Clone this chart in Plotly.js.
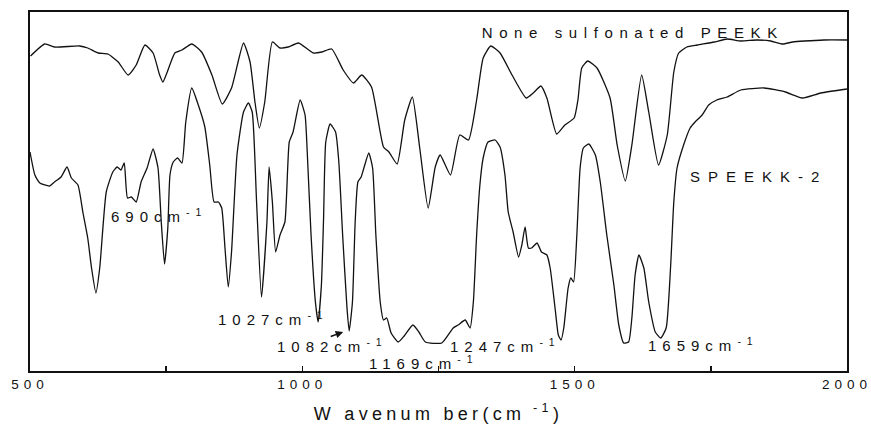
<!DOCTYPE html>
<html>
<head>
<meta charset="utf-8">
<script src="https://cdn.plot.ly/plotly-3.0.1.min.js"></script>
<style>
  html, body { margin: 0; padding: 0; background: #fff; }
  #chart { width: 871px; height: 425px; }
  .annotation-text { letter-spacing: 6px; }
  g.annotation[data-index="0"] .annotation-text { letter-spacing: 6.6px; }
  g.annotation[data-index="1"] .annotation-text { letter-spacing: 8px; }
  .xtick text { letter-spacing: 5px; }
  .g-xtitle text { letter-spacing: 4.3px; }
</style>
</head>
<body>
<div id="chart"></div>
<script>
// Wavenumber (cm-1) and transmittance (arbitrary units)
const pureWavenumber = [501,527,545,591,606,625,643,662,680,695,711,726,738,744,752,766,779,797,815,834,853,870,892,904,913,921,931,945,959,974,993,1020,1036,1054,1075,1094,1109,1127,1149,1159,1174,1188,1202,1216,1231,1244,1253,1272,1289,1305,1320,1332,1346,1363,1385,1411,1424,1438,1449,1467,1482,1499,1506,1513,1524,1541,1565,1578,1593,1605,1623,1636,1654,1670,1682,1691,1706,1725,1756,1780,1805,1835,1860,1882,1900,1922,1958,2000];
const pureT = [315,327,324,325,323,318,317,309,296,306,326,318,296,289,299,318,321,327,319,296,267,283,328,309,269,243,269,329,323,324,328,318,319,322,301,288,296,284,224,219,207,251,274,221,163,204,216,196,236,231,271,313,325,318,296,273,278,285,273,237,246,253,271,303,310,303,273,226,190,226,296,259,206,236,299,318,324,326,329,332,330,331,330,327,329,330,331,331];

const sulfWavenumber = [500,509,518,536,545,557,568,576,588,597,606,613,621,628,640,652,660,667,673,679,686,695,704,715,726,735,741,747,753,757,763,771,779,786,797,809,821,830,838,846,852,858,864,870,880,892,901,908,916,925,935,939,945,951,959,968,976,983,996,1005,1009,1016,1024,1029,1035,1039,1043,1051,1061,1067,1074,1082,1086,1092,1097,1102,1108,1113,1122,1129,1135,1143,1149,1155,1163,1176,1187,1203,1214,1226,1256,1277,1286,1299,1308,1314,1320,1326,1332,1341,1354,1363,1372,1378,1387,1397,1403,1409,1415,1421,1431,1439,1449,1455,1464,1470,1475,1480,1488,1493,1498,1504,1510,1516,1526,1538,1547,1559,1572,1581,1590,1599,1605,1611,1618,1627,1636,1648,1658,1668,1676,1682,1688,1700,1712,1721,1734,1746,1761,1780,1805,1848,1887,1918,1952,2000];
const sulfT = [219,196,188,185,189,194,204,193,186,159,133,103,78,103,179,199,204,201,208,173,174,169,189,203,222,203,149,107,143,196,209,213,208,249,283,266,244,206,169,169,163,123,84,119,216,259,268,259,169,74,149,204,169,119,136,149,229,239,271,256,219,136,69,49,86,153,229,247,239,209,136,63,40,69,149,189,194,203,218,203,136,69,51,53,38,29,35,46,39,29,28,43,46,51,43,69,136,186,213,229,231,224,196,159,139,114,126,144,123,123,128,119,116,103,63,36,31,43,83,93,89,136,203,223,227,216,189,136,86,46,28,29,53,96,116,103,69,39,33,43,103,169,203,226,243,249,256,266,271,274,281,283,279,273,278,282];

const tickValues = [500, 1000, 1500, 2000];
const tickLabels = ['500', '1000', '1500', '2000'];
const minorTickValues = [750, 1250, 1750];

const seriesNames = ['None sulfonated PEEKK', 'SPEEKK-2'];
const peakLabels = ['690cm<sup>-1</sup>', '1027cm<sup>-1</sup>', '1082cm<sup>-1</sup>', '1169cm<sup>-1</sup>', '1247cm<sup>-1</sup>', '1659cm<sup>-1</sup>'];
const peakLabelX = [645, 841, 950, 1119, 1267, 1631];
const peakLabelY = [156, 53, 26, 9, 26, 27];

const FONT = 'Liberation Sans, Arial, sans-serif';

const traces = [
  { x: pureWavenumber, y: pureT, mode: 'lines', name: seriesNames[0],
    line: { color: '#111', width: 1.3, shape: 'spline', smoothing: 0.5 }, hoverinfo: 'skip' },
  { x: sulfWavenumber, y: sulfT, mode: 'lines', name: seriesNames[1],
    line: { color: '#111', width: 1.3, shape: 'spline', smoothing: 0.5 }, hoverinfo: 'skip' }
];

const annotations = [
  { x: 1338, y: 339, xref: 'x', yref: 'y', text: seriesNames[0], showarrow: false,
    xanchor: 'left', yanchor: 'middle', font: { family: FONT, size: 15, color: '#111' } },
  { x: 1723, y: 195, xref: 'x', yref: 'y', text: seriesNames[1], showarrow: false,
    xanchor: 'left', yanchor: 'middle', font: { family: FONT, size: 15, color: '#111' } }
];
peakLabels.forEach((t, i) => {
  annotations.push({ x: peakLabelX[i], y: peakLabelY[i], xref: 'x', yref: 'y', text: t,
    showarrow: false, xanchor: 'left', yanchor: 'middle',
    font: { family: FONT, size: 15, color: '#111' } });
});

const layout = {
  width: 871, height: 425,
  margin: { l: 30, r: 24, t: 12, b: 54 },
  paper_bgcolor: '#fff', plot_bgcolor: '#fff',
  showlegend: false,
  font: { family: FONT, color: '#111' },
  xaxis: {
    range: [500, 2000], tickvals: tickValues, ticktext: tickLabels,
    ticks: 'inside', ticklen: 5, tickwidth: 1.5, tickcolor: '#111',
    ticklabeloverflow: 'allow',
    minor: { tickvals: minorTickValues, ticks: 'inside', ticklen: 5, tickwidth: 1.5, tickcolor: '#111', showgrid: false },
    showline: true, linecolor: '#111', linewidth: 1.8, mirror: true,
    showgrid: false, zeroline: false,
    tickfont: { family: FONT, size: 13.5, color: '#111' },
    title: { text: 'W avenum ber(cm<sup> -1</sup>)', font: { family: FONT, size: 18, color: '#111' }, standoff: 16 }
  },
  yaxis: {
    range: [0, 359], showticklabels: false, ticks: '',
    showline: true, linecolor: '#111', linewidth: 1.8, mirror: true,
    showgrid: false, zeroline: false
  },
  annotations: annotations.concat([
    // small arrow pointing to the 1082 band
    { x: 1075, y: 39, xref: 'x', yref: 'y', text: '', showarrow: true,
      arrowhead: 2, arrowsize: 1, arrowwidth: 1.5, arrowcolor: '#111', ax: -14, ay: 5 }
  ])
};

Plotly.newPlot('chart', traces, layout, { staticPlot: true, displayModeBar: false });
</script>
</body>
</html>
